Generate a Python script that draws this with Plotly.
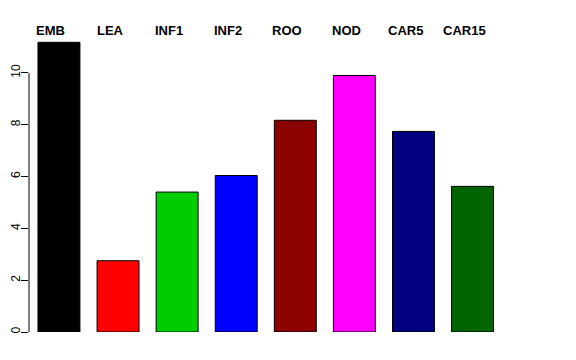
import plotly.graph_objects as go

categories = ["EMB", "LEA", "INF1", "INF2", "ROO", "NOD", "CAR5", "CAR15"]
values = [11.18, 2.75, 5.40, 6.04, 8.17, 9.90, 7.74, 5.62]
colors = ["#000000", "#FF0000", "#00CD00", "#0000FF", "#8B0000", "#FF00FF", "#000080", "#006400"]
ytick_vals = [0, 2, 4, 6, 8, 10]

xpos = list(range(len(categories)))

fig = go.Figure()
fig.add_trace(go.Bar(
    x=xpos, y=values,
    marker=dict(color=colors, line=dict(color="#000000", width=1)),
    width=0.71,
    hoverinfo="skip",
))

for i, c in enumerate(categories):
    fig.add_annotation(
        x=i, y=1, xref="x", yref="paper", yanchor="bottom", yshift=-6,
        text="<b>%s</b>" % c, showarrow=False, xshift=-8,
        font=dict(family="Liberation Sans, Arial, sans-serif", size=13, color="#000000"),
    )

# y axis line spanning only tick range (as in R)
fig.add_shape(type="line", xref="paper", yref="y", x0=0, x1=0, y0=0, y1=10,
              line=dict(color="#000000", width=1))

fig.update_layout(
    width=576, height=360,
    margin=dict(l=21, r=75.5, t=25.85, b=36.3, autoexpand=False),
    plot_bgcolor="#FFFFFF", paper_bgcolor="#FFFFFF",
    showlegend=False,
    font=dict(family="Liberation Sans, Arial, sans-serif", size=12, color="#000000"),
    xaxis=dict(range=[-0.507, 7.6], showgrid=False, zeroline=False, showline=False,
               showticklabels=False, ticks="", automargin=False),
    yaxis=dict(range=[0, 11.5], showgrid=False, zeroline=False, showline=False,
               tickmode="array", tickvals=ytick_vals, ticktext=[str(v) for v in ytick_vals],
               ticks="outside", ticklen=7, tickcolor="#000000", tickwidth=1,
               tickangle=-90, tickfont=dict(size=12), automargin=False,
               ticklabelstandoff=-4),
    bargap=0.29,
)

fig.write_html("out.html")
